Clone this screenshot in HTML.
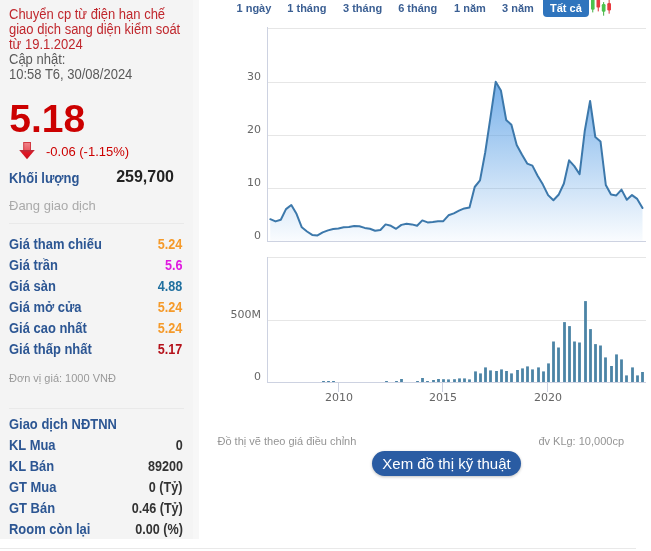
<!DOCTYPE html>
<html lang="vi"><head><meta charset="utf-8"><title>Biểu đồ giá</title>
<style>
html,body{margin:0;padding:0;background:#fff;}
body{width:651px;height:551px;overflow:hidden;position:relative;font-family:"Liberation Sans",sans-serif;font-size:13px;color:#333;}
#left{position:absolute;left:0;top:0;width:199px;height:539px;background:linear-gradient(to right,#f4f4f4 0,#f4f4f4 193px,#f7f7f7 193px,#f7f7f7 199px);}
#left .t{position:absolute;left:9px;white-space:nowrap;transform-origin:0 50%;}
.note{color:#c0272d;line-height:15px;top:6.6px;font-size:13.8px;transform:scaleX(0.942);}
.upd{color:#5a5a5a;line-height:15px;top:51.6px;font-size:13.8px;transform:scaleX(0.942);}
.price{font-weight:bold;font-size:39px;line-height:40px;color:#cc0000;top:99px;left:9.3px!important;}
.chg{color:#cc0000;top:144px;left:46px!important;line-height:15px;}
.lab{font-weight:bold;color:#2c5693;line-height:15px;font-size:14px;transform:scaleX(0.925);margin-top:-0.4px;}
.val{position:absolute;right:16.5px;font-weight:bold;font-size:14px;line-height:15px;white-space:nowrap;transform:scaleX(0.9);transform-origin:100% 50%;}
.sep{position:absolute;left:9px;width:175px;height:1px;background:#e9e9e9;}
.tabs{position:absolute;top:0;left:0;white-space:nowrap;font-size:11px;font-weight:bold;color:#3b5f93;line-height:16px;}
.tabs span{position:absolute;top:0;height:16px;}
.tabs span.on{background:#2f74bd;color:#fff;border-radius:4px;padding:0 7px;top:-3px;height:20px;line-height:22px;}
.foot{position:absolute;font-size:11px;color:#949494;line-height:13px;top:435px;white-space:nowrap;}
.btn{position:absolute;left:372px;top:451px;width:149px;height:25px;border-radius:13px;background:#2a5ca3;color:#fff;font-size:15px;line-height:25px;text-align:center;box-shadow:0 1px 3px rgba(0,0,0,.25);}
.hr{position:absolute;left:0;top:548px;width:636px;height:1px;background:#e9e9e9;}
svg text{font-family:"DejaVu Sans",sans-serif;font-size:11px;fill:#666;}
</style></head><body>
<div id="left">
<div class="t note">Chuyển cp từ điện hạn chế<br>giao dịch sang diện kiểm soát<br>từ 19.1.2024</div>
<div class="t upd">Cập nhật:<br>10:58 T6, 30/08/2024</div>
<div class="t price">5.18</div>
<svg style="position:absolute;left:19px;top:142px" width="16" height="18" viewBox="0 0 16 18"><defs><linearGradient id="ag" x1="0" y1="0" x2="0" y2="1"><stop offset="0" stop-color="#f0868c"/><stop offset="1" stop-color="#e8525a"/></linearGradient><linearGradient id="ah" x1="0" y1="0" x2="0" y2="1"><stop offset="0" stop-color="#b4303c"/><stop offset="0.35" stop-color="#e01624"/><stop offset="1" stop-color="#c4101c"/></linearGradient></defs><rect x="4.7" y="0.5" width="6.8" height="9" fill="url(#ag)" stroke="#d23a42" stroke-width="1"/><path d="M0.2 7.9H15.8L8 17.2z" fill="url(#ah)"/></svg>
<div class="t chg">-0.06 (-1.15%)</div>
<div class="t lab" style="top:171px">Khối lượng</div>
<div class="val" style="top:168px;font-size:16px;line-height:18px;color:#222;right:25px;transform:none">259,700</div>
<div class="t" style="top:198px;color:#aaa;line-height:15px">Đang giao dịch</div>
<div class="sep" style="top:223px"></div>
<div class="t lab" style="top:237px">Giá tham chiếu</div><div class="val" style="top:237px;color:#f59a2a">5.24</div>
<div class="t lab" style="top:258px">Giá trần</div><div class="val" style="top:258px;color:#e01be0">5.6</div>
<div class="t lab" style="top:279px">Giá sàn</div><div class="val" style="top:279px;color:#1f6f9f">4.88</div>
<div class="t lab" style="top:300px">Giá mở cửa</div><div class="val" style="top:300px;color:#f59a2a">5.24</div>
<div class="t lab" style="top:321px">Giá cao nhất</div><div class="val" style="top:321px;color:#f59a2a">5.24</div>
<div class="t lab" style="top:342px">Giá thấp nhất</div><div class="val" style="top:342px;color:#b5121b">5.17</div>
<div class="t" style="top:372px;font-size:11px;color:#999;line-height:13px">Đơn vị giá: 1000 VNĐ</div>
<div class="sep" style="top:408px"></div>
<div class="t lab" style="top:417px">Giao dịch NĐTNN</div>
<div class="t lab" style="top:438px">KL Mua</div><div class="val" style="top:438px">0</div>
<div class="t lab" style="top:459px">KL Bán</div><div class="val" style="top:459px">89200</div>
<div class="t lab" style="top:480px">GT Mua</div><div class="val" style="top:480px">0 (Tỷ)</div>
<div class="t lab" style="top:501px">GT Bán</div><div class="val" style="top:501px">0.46 (Tỷ)</div>
<div class="t lab" style="top:522px">Room còn lại</div><div class="val" style="top:522px">0.00 (%)</div>
</div>
<div class="tabs"><span style="left:236.5px">1 ngày</span><span style="left:287.3px">1 tháng</span><span style="left:343px">3 tháng</span><span style="left:398.2px">6 tháng</span><span style="left:454px">1 năm</span><span style="left:502px">3 năm</span><span class="on" style="left:543px">Tất cả</span></div>
<svg style="position:absolute;left:590px;top:0" width="24" height="17" viewBox="0 0 24 17">
<g stroke-width="1" stroke-linecap="round"><path d="M2.75 0V12" stroke="#3fae3f"/><rect x="1" y="-2" width="3.6" height="11.7" rx="1.2" fill="#4cc24c"/>
<path d="M8.25 0V11" stroke="#d9343a"/><rect x="6.5" y="-2" width="3.6" height="9.6" rx="1.2" fill="#e8393f"/>
<path d="M13.65 2.5V15.3" stroke="#3fae3f"/><rect x="11.8" y="4.1" width="3.7" height="7.7" rx="1.2" fill="#4cc24c"/>
<path d="M19.15 0V13.3" stroke="#d9343a"/><rect x="17.3" y="3" width="3.7" height="7.4" rx="1.2" fill="#e8393f"/></g></svg>
<svg style="position:absolute;left:0;top:0" width="651" height="420" viewBox="0 0 651 420">
<defs><linearGradient id="fg" gradientUnits="userSpaceOnUse" x1="0" y1="82" x2="0" y2="241"><stop offset="0" stop-color="#529be4" stop-opacity="0.78"/><stop offset="1" stop-color="#529be4" stop-opacity="0.03"/></linearGradient></defs>
<g stroke="#e6e6e6" stroke-width="1" fill="none">
<path d="M267 28.5H646M267 82.5H646M267 135.5H646M267 188.5H646M267 257.5H646M267 320.5H646"/>
</g>
<g stroke="#cdd2e1" stroke-width="1" fill="none">
<path d="M267.5 27V242M267 241.5H646"/>
<path d="M267.5 257V382M267 382.5H646M338.5 382V392M442.5 382V392M547.5 382V392"/>
</g>
<path d="M270.3 219.2 L275.5 221.4 L280.8 219.7 L286.0 209.1 L291.3 205.0 L296.5 213.8 L301.8 227.3 L307.0 231.5 L312.2 234.9 L317.5 235.4 L322.7 232.4 L328.0 230.4 L333.2 229.0 L338.4 228.5 L343.7 227.3 L348.9 227.0 L354.2 226.0 L359.4 226.3 L364.7 227.9 L369.9 228.8 L375.1 230.8 L380.4 230.0 L385.6 224.4 L390.9 225.8 L396.1 228.8 L401.4 224.9 L406.6 223.7 L411.8 224.4 L417.1 225.8 L422.3 220.4 L427.6 222.4 L432.8 222.0 L438.0 221.2 L443.3 221.2 L448.5 215.3 L453.8 213.4 L459.0 210.6 L464.3 208.4 L469.5 207.4 L474.7 187.0 L480.0 180.4 L485.2 152.5 L490.5 117.2 L495.7 81.8 L500.9 90.4 L506.2 120.0 L511.4 124.8 L516.7 145.0 L521.9 154.6 L527.2 163.6 L532.4 165.6 L537.6 175.8 L542.9 184.6 L548.1 195.1 L553.4 200.3 L558.6 194.8 L563.9 183.5 L569.1 160.3 L574.3 166.1 L579.6 174.2 L584.8 130.7 L590.1 101.0 L595.3 137.0 L600.5 141.4 L605.8 185.0 L611.0 194.6 L616.3 195.4 L621.5 189.6 L626.8 199.8 L632.0 195.1 L637.2 198.9 L642.5 207.9 L642.5 241 L270.3 241 Z" fill="url(#fg)"/>
<path d="M270.3 219.2 L275.5 221.4 L280.8 219.7 L286.0 209.1 L291.3 205.0 L296.5 213.8 L301.8 227.3 L307.0 231.5 L312.2 234.9 L317.5 235.4 L322.7 232.4 L328.0 230.4 L333.2 229.0 L338.4 228.5 L343.7 227.3 L348.9 227.0 L354.2 226.0 L359.4 226.3 L364.7 227.9 L369.9 228.8 L375.1 230.8 L380.4 230.0 L385.6 224.4 L390.9 225.8 L396.1 228.8 L401.4 224.9 L406.6 223.7 L411.8 224.4 L417.1 225.8 L422.3 220.4 L427.6 222.4 L432.8 222.0 L438.0 221.2 L443.3 221.2 L448.5 215.3 L453.8 213.4 L459.0 210.6 L464.3 208.4 L469.5 207.4 L474.7 187.0 L480.0 180.4 L485.2 152.5 L490.5 117.2 L495.7 81.8 L500.9 90.4 L506.2 120.0 L511.4 124.8 L516.7 145.0 L521.9 154.6 L527.2 163.6 L532.4 165.6 L537.6 175.8 L542.9 184.6 L548.1 195.1 L553.4 200.3 L558.6 194.8 L563.9 183.5 L569.1 160.3 L574.3 166.1 L579.6 174.2 L584.8 130.7 L590.1 101.0 L595.3 137.0 L600.5 141.4 L605.8 185.0 L611.0 194.6 L616.3 195.4 L621.5 189.6 L626.8 199.8 L632.0 195.1 L637.2 198.9 L642.5 207.9" fill="none" stroke="#3c78ab" stroke-width="2" stroke-linejoin="round" stroke-linecap="round"/>
<g fill="#4c84a6"><rect x="322.1" y="381.0" width="2.8" height="1.0"/><rect x="327.1" y="381.0" width="2.8" height="1.0"/><rect x="332.1" y="381.0" width="2.8" height="1.0"/><rect x="385.1" y="381.0" width="2.8" height="1.0"/><rect x="395.1" y="381.0" width="2.8" height="1.0"/><rect x="400.1" y="379.0" width="2.8" height="3.0"/><rect x="416.1" y="381.0" width="2.8" height="1.0"/><rect x="421.1" y="378.0" width="2.8" height="4.0"/><rect x="426.1" y="381.0" width="2.8" height="1.0"/><rect x="432.1" y="380.0" width="2.8" height="2.0"/><rect x="437.1" y="379.0" width="2.8" height="3.0"/><rect x="442.1" y="379.2" width="2.8" height="2.8"/><rect x="447.1" y="379.4" width="2.8" height="2.6"/><rect x="453.1" y="379.2" width="2.8" height="2.8"/><rect x="458.1" y="378.4" width="2.8" height="3.6"/><rect x="463.1" y="378.4" width="2.8" height="3.6"/><rect x="468.1" y="379.4" width="2.8" height="2.6"/><rect x="474.1" y="371.4" width="2.8" height="10.6"/><rect x="479.1" y="373.4" width="2.8" height="8.6"/><rect x="484.1" y="367.4" width="2.8" height="14.6"/><rect x="489.1" y="370.4" width="2.8" height="11.6"/><rect x="495.1" y="371.0" width="2.8" height="11.0"/><rect x="500.1" y="369.4" width="2.8" height="12.6"/><rect x="505.1" y="371.0" width="2.8" height="11.0"/><rect x="510.1" y="373.4" width="2.8" height="8.6"/><rect x="516.1" y="370.0" width="2.8" height="12.0"/><rect x="521.1" y="368.4" width="2.8" height="13.6"/><rect x="526.1" y="366.4" width="2.8" height="15.6"/><rect x="531.1" y="369.4" width="2.8" height="12.6"/><rect x="537.1" y="367.4" width="2.8" height="14.6"/><rect x="542.1" y="371.4" width="2.8" height="10.6"/><rect x="547.1" y="363.4" width="2.8" height="18.6"/><rect x="552.1" y="341.5" width="2.8" height="40.5"/><rect x="557.1" y="347.5" width="2.8" height="34.5"/><rect x="563.1" y="322.1" width="2.8" height="59.9"/><rect x="568.1" y="326.1" width="2.8" height="55.9"/><rect x="573.1" y="341.5" width="2.8" height="40.5"/><rect x="578.1" y="342.5" width="2.8" height="39.5"/><rect x="584.1" y="301.1" width="2.8" height="80.9"/><rect x="589.1" y="329.1" width="2.8" height="52.9"/><rect x="594.1" y="344.1" width="2.8" height="37.9"/><rect x="599.1" y="345.5" width="2.8" height="36.5"/><rect x="604.1" y="357.4" width="2.8" height="24.6"/><rect x="610.1" y="366.0" width="2.8" height="16.0"/><rect x="615.1" y="354.4" width="2.8" height="27.6"/><rect x="620.1" y="359.4" width="2.8" height="22.6"/><rect x="625.1" y="375.4" width="2.8" height="6.6"/><rect x="631.1" y="367.4" width="2.8" height="14.6"/><rect x="636.1" y="375.4" width="2.8" height="6.6"/><rect x="641.1" y="372.0" width="2.8" height="10.0"/></g>
<g text-anchor="end"><text x="261" y="80">30</text><text x="261" y="133">20</text><text x="261" y="186">10</text><text x="261" y="239">0</text>
<text x="261" y="318">500M</text><text x="261" y="379.5">0</text></g>
<g text-anchor="middle"><text x="339" y="401">2010</text><text x="443" y="401">2015</text><text x="548" y="401">2020</text></g>
</svg>
<div class="foot" style="left:217.5px">Đồ thị vẽ theo giá điều chỉnh</div>
<div class="foot" style="right:27px">đv KLg: 10,000cp</div>
<div class="btn">Xem đồ thị kỹ thuật</div>
<div class="hr"></div>
</body></html>
